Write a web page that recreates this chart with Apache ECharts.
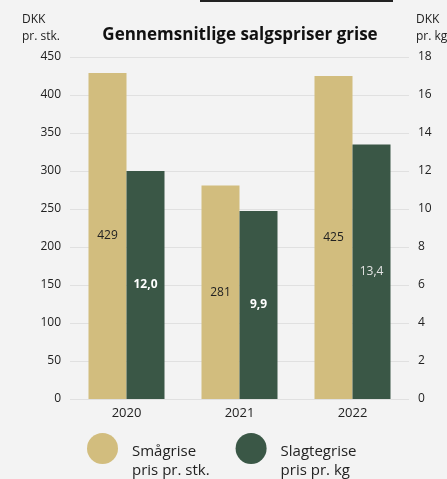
<!DOCTYPE html>
<html>
<head>
<meta charset="utf-8">
<script src="https://cdn.jsdelivr.net/npm/echarts@6/dist/echarts.min.js"></script>
<style>
	html, body { margin: 0; padding: 0; background: #f3f3f3; }
	#chart { width: 447px; height: 479px; }
</style>
</head>
<body>
<div id="chart"></div>
<script>
var years = ['2020', '2021', '2022'];
var smaagrise = [429, 281, 425];
var slagtegrise = [12.0, 9.9, 13.4];
var slagteBold = [true, true, false];
var leftTicks = [0, 450, 50];
var rightTicks = [0, 18, 2];

var FONT = '"Open Sans", sans-serif';
var YELLOW = '#d2bd7e';
var GREEN = '#3a5746';

var myChart = echarts.init(document.getElementById('chart'));

function komma(v) {
	return v.toFixed(1).replace('.', ',');
}

var option = {
	backgroundColor: '#f3f3f3',
	textStyle: { fontFamily: FONT },
	title: {
		text: 'Gennemsnitlige salgspriser grise',
		left: 235,
		textAlign: 'center',
		top: 22,
		textStyle: { fontFamily: FONT, fontSize: 17, fontWeight: 'bold', color: '#111' }
	},
	graphic: [
		{ type: 'rect', shape: { x: 200, y: 0, width: 193, height: 2 }, style: { fill: '#222' } },
		{ type: 'text', right: 387, top: 11, style: { text: 'DKK\npr. stk.', align: 'right', fontFamily: FONT, fontSize: 12, lineHeight: 17, fill: '#222' } },
		{ type: 'text', left: 416, top: 11, style: { text: 'DKK\npr. kg.', fontFamily: FONT, fontSize: 12, lineHeight: 17, fill: '#222' } }
	],
	legend: {
		left: 87,
		top: 417,
		padding: 0,
		itemWidth: 31,
		itemHeight: 31,
		itemGap: 26,
		icon: 'circle',
		formatter: function (name) {
			var lines = name.split('\n');
			return '{s| }\n{t|' + lines[0] + '}\n{t|' + lines[1] + '}';
		},
		textStyle: {
			fontFamily: FONT, fontSize: 15, color: '#222', padding: [0, 0, 0, 9],
			rich: {
				s: { fontSize: 10, lineHeight: 25, height: 25 },
				t: { fontFamily: FONT, fontSize: 15, lineHeight: 19, color: '#222' }
			}
		}
	},
	grid: { left: 70, right: 38, top: 57, bottom: 80 },
	xAxis: {
		type: 'category',
		data: years,
		axisLine: { show: false },
		axisTick: { show: false },
		axisLabel: { fontFamily: FONT, fontSize: 13, color: '#222', margin: 8 }
	},
	yAxis: [
		{
			type: 'value', min: leftTicks[0], max: leftTicks[1], interval: leftTicks[2],
			axisLine: { show: false }, axisTick: { show: false },
			axisLabel: { fontFamily: FONT, fontSize: 12, color: '#222', margin: 9 },
			splitLine: { lineStyle: { color: '#e0e0e0', width: 1 } }
		},
		{
			type: 'value', min: rightTicks[0], max: rightTicks[1], interval: rightTicks[2],
			axisLine: { show: false }, axisTick: { show: false },
			axisLabel: { fontFamily: FONT, fontSize: 12, color: '#222', margin: 9 },
			splitLine: { show: false }
		}
	],
	series: [
		{
			name: 'Smågrise\npris pr. stk.',
			type: 'bar',
			yAxisIndex: 0,
			barWidth: 38,
			barGap: '0%',
			itemStyle: { color: YELLOW },
			label: { show: true, position: 'inside', fontFamily: FONT, fontSize: 12, color: '#222' },
			data: smaagrise
		},
		{
			name: 'Slagtegrise\npris pr. kg',
			type: 'bar',
			yAxisIndex: 1,
			barWidth: 38,
			barGap: '0%',
			itemStyle: { color: GREEN },
			data: slagtegrise.map(function (v, i) {
				return {
					value: v,
					label: {
						show: true, position: 'inside', fontFamily: FONT, fontSize: 12,
						color: slagteBold[i] ? '#fff' : '#e4e4e4',
						fontWeight: slagteBold[i] ? 'bold' : 'normal',
						formatter: function (p) { return komma(p.value); }
					}
				};
			})
		}
	]
};

myChart.setOption(option);
</script>
</body>
</html>
